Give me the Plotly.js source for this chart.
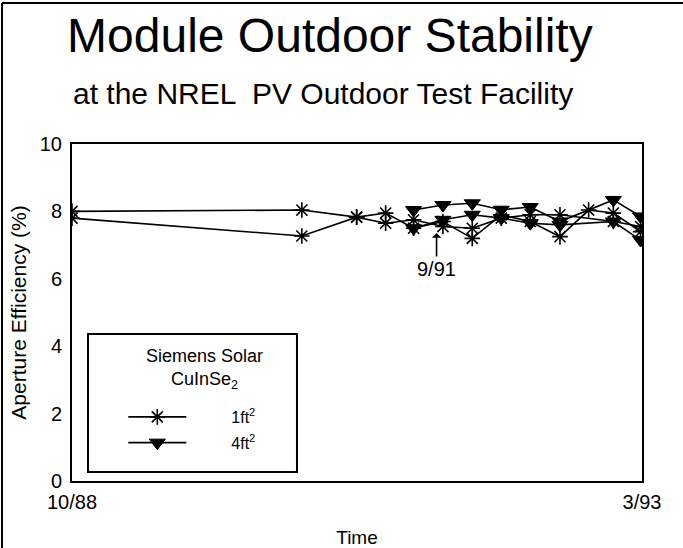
<!DOCTYPE html>
<html>
<head>
<meta charset="utf-8">
<script src="https://cdn.plot.ly/plotly-3.0.1.min.js"></script>
<style>html,body{margin:0;padding:0;background:#fff;}#chart{width:683px;height:548px;}</style>
</head>
<body>
<div id="chart"></div>
<script>
// Dates of the measurements
const datesSmallA = ['1988-10-01','1990-07-13','1990-12-15','1991-03-07','1991-05-25','1991-08-16','1991-11-07','1992-01-28','1992-04-19','1992-07-12','1992-10-01','1992-12-10','1993-02-25'];
const effSmallA   = [8.0, 8.04, 7.83, 7.95, 7.5, 7.7, 7.2, 7.9, 7.7, 7.25, 8.04, 7.95, 7.4];
const datesSmallB = ['1988-10-01','1990-07-13','1990-12-15','1991-03-07','1991-05-25','1991-08-16','1991-11-07','1992-01-28','1992-04-19','1992-07-12','1992-12-10','1993-02-25'];
const effSmallB   = [7.8, 7.27, 7.83, 7.65, 7.75, 7.55, 7.5, 7.8, 7.9, 7.9, 7.7, 7.55];
const datesLarge  = ['1991-05-25','1991-08-16','1991-11-07','1992-01-28','1992-04-19','1992-07-12','1992-12-10','1993-02-25'];
const effLargeA   = [8.04, 8.19, 8.24, 8.05, 8.13, 7.7, 8.34, 7.85];
const effLargeB   = [7.5, 7.75, 7.9, 7.8, 7.65, 7.6, 7.7, 7.15];
const xTickVals   = ['1988-10-01','1993-03-01'];
const xTickText   = ['10/88','3/93'];
const yTickVals   = [0,2,4,6,8,10];
const seriesNames = ['1ft<sup>2</sup>','4ft<sup>2</sup>'];
const legendHeading = 'Siemens Solar<br>CuInSe<sub>2</sub>';
const markDate    = '1991-07-29';
const markValue   = 7.36;
const markLabel   = '9/91';

const FONT = 'Liberation Sans, Arial, Helvetica, sans-serif';
const PAD = '\u00a0'.repeat(9);
const lineStyle = {color:'#000', width:1.6};
const starMarker = {symbol:'asterisk-open', size:13, color:'#000', line:{color:'#000', width:1.6}};
const triMarker = {symbol:'triangle-down', size:14, color:'#000', line:{color:'#000', width:1}};

const traces = [
  {x:datesSmallA, y:effSmallA, mode:'lines+markers', name:PAD + seriesNames[0], legendgroup:'a', line:lineStyle, marker:starMarker},
  {x:datesSmallB, y:effSmallB, mode:'lines+markers', name:PAD + seriesNames[0], legendgroup:'a', showlegend:false, line:lineStyle, marker:starMarker},
  {x:datesLarge, y:effLargeA, mode:'lines+markers', name:PAD + seriesNames[1], legendgroup:'b', line:lineStyle, marker:triMarker},
  {x:datesLarge, y:effLargeB, mode:'lines+markers', name:PAD + seriesNames[1], legendgroup:'b', showlegend:false, line:lineStyle, marker:triMarker}
];

const layout = {
  width:683, height:548,
  margin:{l:72, r:41, t:144, b:67},
  paper_bgcolor:'#fff', plot_bgcolor:'#fff',
  font:{family:FONT, color:'#000', size:19},
  title:{text:'Module Outdoor Stability', font:{size:48, family:FONT, color:'#000'}, xref:'container', x:0.483, xanchor:'center', yref:'container', y:0.935, yanchor:'middle'},
  xaxis:{type:'date', range:['1988-10-01','1993-03-01'], tickvals:xTickVals, ticktext:xTickText, ticks:'', showgrid:false, zeroline:false,
         showline:true, mirror:true, linecolor:'#000', linewidth:2, tickfont:{size:20}, ticklabelstandoff:2,
         title:{text:'Time', font:{size:19}, standoff:22}},
  yaxis:{range:[0,10], tickvals:yTickVals, ticks:'', showgrid:false, zeroline:false,
         showline:true, mirror:true, linecolor:'#000', linewidth:2, tickfont:{size:20}, ticklabelstandoff:4,
         title:{text:'Aperture Efficiency (%)', font:{size:21}, standoff:7}},
  showlegend:true,
  legend:{x:0.09, y:0.2405, xanchor:'left', yanchor:'top', bgcolor:'rgba(0,0,0,0)', borderwidth:0,
          itemwidth:58, tracegroupgap:2, font:{size:16}},
  annotations:[
    {xref:'paper', yref:'paper', x:0.44, y:1.151, text:'at the NREL  PV Outdoor Test Facility', showarrow:false, font:{size:30, family:FONT, color:'#000'}, xanchor:'center', yanchor:'middle'},
    {xref:'paper', yref:'paper', x:0.2333, y:0.332, text:legendHeading, showarrow:false, align:'center', xanchor:'center', yanchor:'middle', font:{size:18}},
    {x:markDate, y:markValue, text:markLabel, showarrow:true, arrowhead:1, arrowsize:1, arrowwidth:1.6, arrowcolor:'#000', ax:0, ay:36, font:{size:20}, standoff:0}
  ],
  shapes:[
    {type:'rect', xref:'paper', yref:'paper', x0:0.0281, x1:0.3947, y0:0.0267, y1:0.436, line:{color:'#000', width:2}},
    {type:'line', xref:'paper', yref:'paper', x0:-0.1228, x1:-0.1228, y0:-0.21, y1:1.4184, line:{color:'#000', width:2}},
    {type:'line', xref:'paper', yref:'paper', x0:-0.1228, x1:1.08, y0:1.4184, y1:1.4184, line:{color:'#000', width:2}}
  ]
};

Plotly.newPlot('chart', traces, layout, {displayModeBar:false, staticPlot:true});
</script>
</body>
</html>
